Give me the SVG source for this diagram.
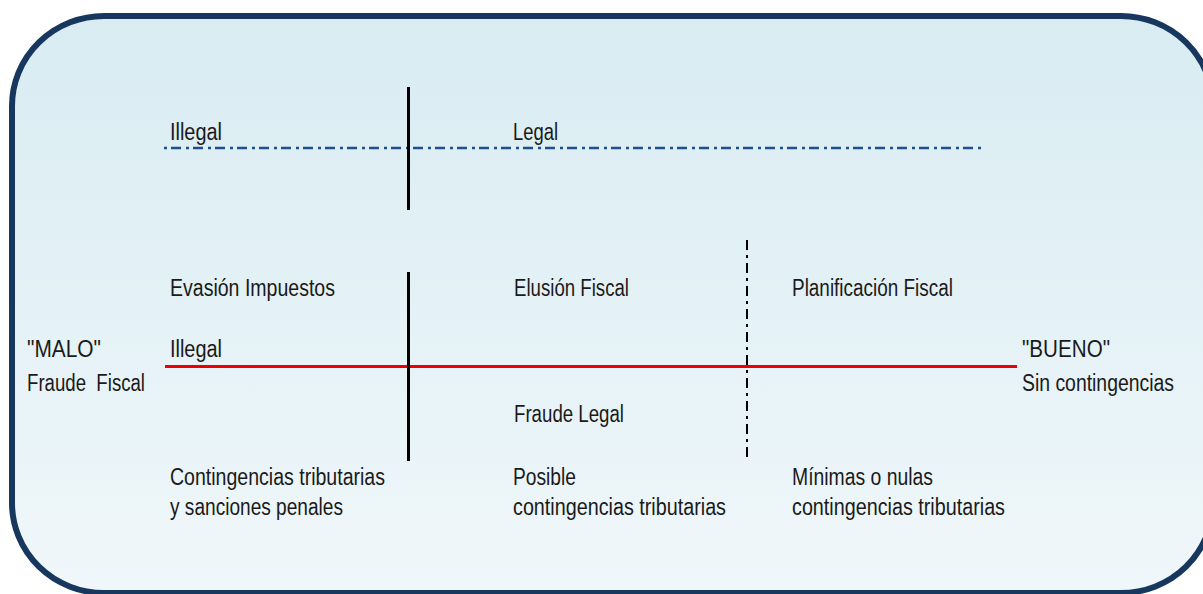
<svg xmlns="http://www.w3.org/2000/svg" width="1203" height="594" viewBox="0 0 1203 594">
  <defs>
    <linearGradient id="bg" x1="0" y1="0" x2="0" y2="1">
      <stop offset="0" stop-color="#d8ecf2"/>
      <stop offset="1" stop-color="#f0f7fa"/>
    </linearGradient>
  </defs>
  <style>
    text { font-family: "Liberation Sans", Arial, sans-serif; font-size: 23px; fill: #1a1a1a; }
    .solid { stroke: #000; stroke-width: 3; fill: none; }
    .dashdot { stroke: #000; stroke-width: 2; stroke-dasharray: 10 5 3 5; fill: none; }
    .blue { stroke: #1f4e8c; stroke-width: 2.5; stroke-dasharray: 3 4 10 5; fill: none; }
    .red { stroke: #ee0000; stroke-width: 3; fill: none; }
  </style>
  <rect width="1203" height="594" fill="#ffffff"/>
  <rect id="frame" x="12" y="16" width="1201" height="577" rx="92" ry="90" fill="url(#bg)" stroke="#17375e" stroke-width="6"/>

  <g id="connectors">
    <line class="blue" x1="164" y1="148" x2="985" y2="148"/>
    <line class="red" x1="165" y1="366.5" x2="1017" y2="366.5"/>
    <line class="solid" x1="408.5" y1="87" x2="408.5" y2="210"/>
    <line class="solid" x1="408.5" y1="272" x2="408.5" y2="461"/>
    <line class="dashdot" x1="747" y1="240" x2="747" y2="462"/>
  </g>

  <g id="illegal-top"><text x="170" y="140" textLength="52" lengthAdjust="spacingAndGlyphs">Illegal</text></g>
  <g id="legal-top"><text x="513" y="140" textLength="45" lengthAdjust="spacingAndGlyphs">Legal</text></g>

  <g id="evasion"><text x="170" y="296" textLength="165" lengthAdjust="spacingAndGlyphs">Evasión Impuestos</text></g>
  <g id="elusion"><text x="514" y="296" textLength="115" lengthAdjust="spacingAndGlyphs">Elusión Fiscal</text></g>
  <g id="planificacion"><text x="792" y="296" textLength="161" lengthAdjust="spacingAndGlyphs">Planificación Fiscal</text></g>

  <g id="malo">
    <text x="27" y="357" textLength="74" lengthAdjust="spacingAndGlyphs">"MALO"</text>
    <text x="27" y="391" textLength="118" lengthAdjust="spacingAndGlyphs" xml:space="preserve">Fraude  Fiscal</text>
  </g>
  <g id="illegal-mid"><text x="170" y="357" textLength="52" lengthAdjust="spacingAndGlyphs">Illegal</text></g>
  <g id="bueno">
    <text x="1022" y="357" textLength="88" lengthAdjust="spacingAndGlyphs">"BUENO"</text>
    <text x="1022" y="391" textLength="152" lengthAdjust="spacingAndGlyphs">Sin contingencias</text>
  </g>

  <g id="fraude-legal"><text x="514" y="422" textLength="110" lengthAdjust="spacingAndGlyphs">Fraude Legal</text></g>

  <g id="contingencias-penales">
    <text x="170" y="485" textLength="215" lengthAdjust="spacingAndGlyphs">Contingencias tributarias</text>
    <text x="170" y="515" textLength="173" lengthAdjust="spacingAndGlyphs">y sanciones penales</text>
  </g>
  <g id="posible">
    <text x="513" y="485" textLength="63" lengthAdjust="spacingAndGlyphs">Posible</text>
    <text x="513" y="515" textLength="213" lengthAdjust="spacingAndGlyphs">contingencias tributarias</text>
  </g>
  <g id="minimas">
    <text x="792" y="485" textLength="141" lengthAdjust="spacingAndGlyphs">Mínimas o nulas</text>
    <text x="792" y="515" textLength="213" lengthAdjust="spacingAndGlyphs">contingencias tributarias</text>
  </g>
</svg>
